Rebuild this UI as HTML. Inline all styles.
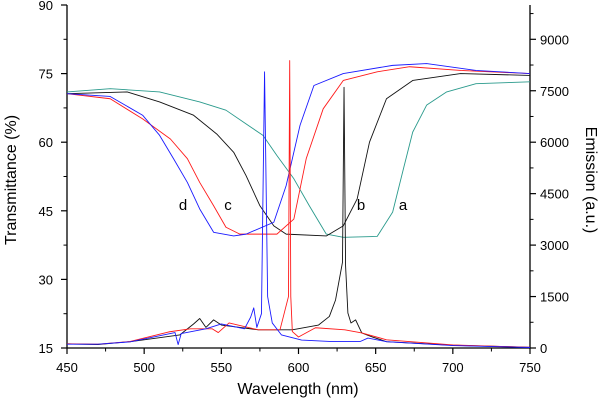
<!DOCTYPE html>
<html><head><meta charset="utf-8"><style>
html,body{margin:0;padding:0;background:#fff;}
svg{display:block;font-family:"Liberation Sans",Arial,sans-serif;}
</style></head><body>
<svg id="chart" width="602" height="402" viewBox="0 0 602 402">
<g id="axes"></g>
<g id="series"></g>
<text x="298" y="394" font-size="16" text-anchor="middle">Wavelength (nm)</text>
<text transform="translate(16,180) rotate(-90)" font-size="16" text-anchor="middle">Transmittance (%)</text>
<text transform="translate(586,180) rotate(90)" font-size="16" text-anchor="middle">Emission (a.u.)</text>
<text x="183" y="210" font-size="15" text-anchor="middle">d</text>
<text x="228" y="210" font-size="15" text-anchor="middle">c</text>
<text x="361" y="210" font-size="15" text-anchor="middle">b</text>
<text x="403" y="210" font-size="15" text-anchor="middle">a</text>
</svg>
<script>
const xTicks=[450,500,550,600,650,700,750];
const leftTicks=[15,30,45,60,75,90];
const rightTicks=[0,1500,3000,4500,6000,7500,9000];
// transmittance series [nm, %]
const transA=[[450,71],[478,71.7],[510,71],[536,68.8],[553,67],[566,64],[577,61.5],[586,57.1],[597,52],[607,46.1],[618,39.9],[629,39.2],[651,39.4],[661,44.7],[668,54.2],[674,62.2],[683,68.1],[696,71],[715,72.8],[750,73.2]];
const transB=[[450,70.6],[489,71],[510,68.8],[532,65.9],[547,61.8],[558,57.8],[566,52.7],[575,46.1],[584,41.7],[592,39.9],[618,39.5],[629,41.7],[638,47.6],[646,60],[657,69.5],[674,73.5],[705,75],[750,74.6]];
const transC=[[450,70.6],[478,69.5],[499,65.1],[517,60.7],[528,56.4],[536,51.2],[545,46.1],[553,41.4],[562,39.9],[586,39.9],[597,43.2],[605,56.4],[616,67.3],[629,73.5],[651,75.4],[672,76.5],[705,75.7],[750,75]];
const transD=[[450,70.6],[478,70],[499,65.9],[510,61.5],[519,56.4],[528,51.2],[536,45.4],[545,40.3],[558,39.5],[566,39.9],[584,42.5],[592,50.5],[601,63.7],[610,72.4],[629,75],[661,76.8],[683,77.2],[715,75.7],[750,75]];
// emission series [nm, a.u.]
const emitB=[[450,120],[470,100],[491,185],[523,380],[532,700],[536,860],[540,600],[545,820],[550,670],[574,530],[596,530],[613,670],[620,920],[624,1400],[628.5,2500],[629.5,7600],[630.5,2400],[632,1020],[634,730],[637,820],[641,440],[648,320],[657,185],[700,80],[750,20]];
const emitC=[[450,120],[470,110],[491,190],[516,470],[530,560],[544,560],[548,450],[555,730],[574,530],[588,530],[593.5,1500],[594.3,8380],[595,1500],[596,480],[600,320],[611,590],[630,530],[641,440],[657,240],[700,90],[750,20]];
const emitD=[[450,110],[470,110],[491,180],[520,450],[522,100],[524,420],[540,560],[550,700],[565,560],[569,900],[571,1170],[573,600],[576,1000],[578,8050],[580,1500],[583,730],[589,380],[602,230],[620,190],[640,190],[645,290],[657,185],[700,70],[750,15]];
const X0=67,X1=530,YT=5,YB=348;
const xs=nm=>X0+(nm-450)/300*(X1-X0);
const yl=t=>YB-(t-15)/75*(YB-YT);
const yr=e=>YB-e/10000*(YB-YT);
const NS="http://www.w3.org/2000/svg";
function mk(tag,attrs,parent){const e=document.createElementNS(NS,tag);for(const k in attrs)e.setAttribute(k,attrs[k]);parent.appendChild(e);return e;}
const ax=document.getElementById('axes');
let e;
e=mk('line',{x1:X0,y1:YT,x2:X0,y2:YB,stroke:'#000','stroke-width':1.3},ax);


e=mk('line',{x1:X1,y1:YT,x2:X1,y2:YB,stroke:'#000','stroke-width':1.3},ax);


e=mk('line',{x1:X0,y1:YB,x2:X1,y2:YB,stroke:'#000','stroke-width':1.3},ax);


for(let i=0;i<xTicks.length;i++){const v=xTicks[i];const x=xs(v);
 mk('line',{x1:x,y1:YB,x2:x,y2:YB+6,stroke:'#000','stroke-width':1.2},ax);
 if(i<xTicks.length-1){const xm=xs(v+25);mk('line',{x1:xm,y1:YB,x2:xm,y2:YB+3.5,stroke:'#000','stroke-width':1},ax);}
 e=mk('text',{x:x,y:372,'font-size':13,'text-anchor':'middle'},ax);e.textContent=v;
 
 }
for(let i=0;i<leftTicks.length;i++){const v=leftTicks[i];const y=yl(v);
 mk('line',{x1:X0-6,y1:y,x2:X0,y2:y,stroke:'#000','stroke-width':1.2},ax);
 if(i<leftTicks.length-1){const ym=yl(v+7.5);mk('line',{x1:X0-3.5,y1:ym,x2:X0,y2:ym,stroke:'#000','stroke-width':1},ax);}
 e=mk('text',{x:53,y:y+5,'font-size':13,'text-anchor':'end'},ax);e.textContent=v;
 
 }
for(let i=0;i<rightTicks.length;i++){const v=rightTicks[i];const y=yr(v);
 mk('line',{x1:X1,y1:y,x2:X1+6,y2:y,stroke:'#000','stroke-width':1.2},ax);
 const ym=yr(v+750);if(ym>YT)mk('line',{x1:X1,y1:ym,x2:X1+3.5,y2:ym,stroke:'#000','stroke-width':1},ax);
 e=mk('text',{x:540,y:y+5,'font-size':13,'text-anchor':'start'},ax);e.textContent=v;
 
 }
const sg=document.getElementById('series');
function line(data,yf,color,name){
 const d=data.map((p,i)=>(i?'L':'M')+xs(p[0]).toFixed(2)+','+yf(p[1]).toFixed(2)).join('');
 const el=mk('path',{d:d,fill:'none',stroke:color,'stroke-width':0.9,'stroke-linejoin':'round'},sg);
 
 }
line(transA,yl,'#2a9a8c','transmittance-a');
line(transB,yl,'#111','transmittance-b');
line(transC,yl,'#ff1a1a','transmittance-c');
line(transD,yl,'#1a1aff','transmittance-d');
line(emitB,yr,'#111','emission-b');
line(emitC,yr,'#ff1a1a','emission-c');
line(emitD,yr,'#1a1aff','emission-d');
</script>
</body></html>
